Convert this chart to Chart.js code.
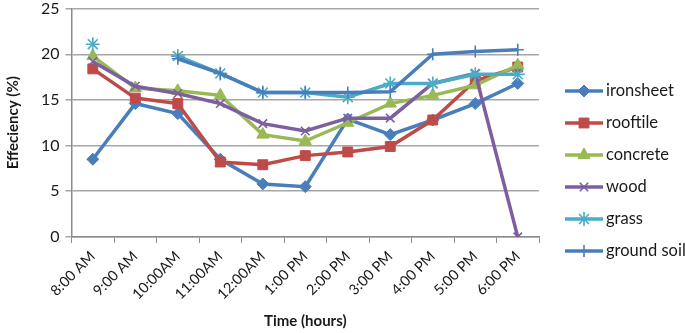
<!DOCTYPE html>
<html lang="en">
<head>
  <meta charset="UTF-8">
  <title>Efficiency over time</title>
  <script src="https://cdn.jsdelivr.net/npm/chart.js"></script>
  <style>
    html, body { margin: 0; padding: 0; background: #fff; }
    #wrap { width: 685px; height: 333px; position: relative; }
  </style>
</head>
<body>
  <div id="wrap"><canvas id="effChart"></canvas></div>

  <script>
    // data
    const hours = ['8:00 AM', '9:00 AM', '10:00AM', '11:00AM', '12:00AM', '1:00 PM',
                   '2:00 PM', '3:00 PM', '4:00 PM', '5:00 PM', '6:00 PM'];

    const ironsheet  = [8.5, 14.6, 13.5, 8.5, 5.8, 5.5, 12.9, 11.2, 12.8, 14.6, 16.8];
    const rooftile   = [18.4, 15.2, 14.6, 8.2, 7.9, 8.9, 9.3, 9.9, 12.8, 17.1, 18.6];
    const concrete   = [19.8, 16.3, 16.0, 15.5, 11.2, 10.5, 12.5, 14.6, 15.5, 16.6, 18.8];
    const wood       = [19.2, 16.5, 15.7, 14.6, 12.4, 11.6, 13.0, 13.0, 16.8, 17.9, 0];
    const grass      = [21.1, null, 19.8, 17.9, 15.8, 15.8, 15.3, 16.8, 16.8, 17.8, 17.8];
    const groundSoil = [null, null, 19.5, 17.9, 15.8, 15.8, 15.8, 15.9, 20.0, 20.3, 20.5];

    const yTicks = [0, 5, 10, 15, 20, 25];

    const font = '"Lato", "Open Sans", sans-serif';

    function series(label, data, color, style, radius, order) {
      return {
        label, data,
        borderColor: color,
        backgroundColor: color,
        borderWidth: 3.5,
        pointStyle: style,
        pointRadius: radius,
        pointHoverRadius: radius,
        pointBorderWidth: (style === 'cross' || style === 'crossRot' || style === 'star') ? 1.6 : 1,
        spanGaps: false,
        tension: 0,
        order
      };
    }

    // draws the legend on the right, line + marker like the original
    const sideLegend = {
      id: 'sideLegend',
      afterDraw(chart) {
        const ctx = chart.ctx;
        chart.data.datasets.forEach((ds, i) => {
          const y = 91 + i * 32;
          ctx.save();
          ctx.strokeStyle = ds.borderColor;
          ctx.lineWidth = 3.5;
          ctx.beginPath();
          ctx.moveTo(565, y);
          ctx.lineTo(603, y);
          ctx.stroke();
          ctx.fillStyle = ds.backgroundColor;
          ctx.lineWidth = ds.pointBorderWidth;
          Chart.helpers.drawPoint(ctx, {
            pointStyle: ds.pointStyle,
            radius: ds.pointRadius,
            rotation: 0,
            borderWidth: ds.pointBorderWidth
          }, 584, y);
          ctx.fillStyle = '#1a1a1a';
          ctx.font = '16.5px ' + font;
          ctx.textBaseline = 'middle';
          ctx.fillText(ds.label, 606, y);
          ctx.restore();
        });
      }
    };

    new Chart(document.getElementById('effChart'), {
      type: 'line',
      data: {
        labels: hours,
        datasets: [
          series('ironsheet', ironsheet, '#4a7ebb', 'rectRot', 6, 6),
          series('rooftile', rooftile, '#be4b48', 'rect', 7, 5),
          series('concrete', concrete, '#98b954', 'triangle', 7, 4),
          series('wood', wood, '#7d5fa0', 'crossRot', 6, 3),
          series('grass', grass, '#4bacc6', 'star', 7, 2),
          series('ground soil', groundSoil, '#4a7ebb', 'cross', 6, 1)
        ]
      },
      options: {
        responsive: true,
        maintainAspectRatio: false,
        animation: false,
        layout: { padding: { left: 4, right: 146, top: 2, bottom: 3 } },
        plugins: {
          legend: { display: false },
          tooltip: { enabled: false }
        },
        scales: {
          x: {
            offset: true,
            grid: {
              offset: true,
              drawOnChartArea: false,
              tickLength: 6,
              color: '#8c8c8c'
            },
            border: { color: '#8c8c8c', width: 1.5 },
            ticks: {
              minRotation: 45,
              maxRotation: 45,
              color: '#1a1a1a',
              font: { family: font, size: 14.5 },
              padding: 5
            },
            title: {
              display: true,
              text: 'Time (hours)',
              color: '#1a1a1a',
              font: { family: font, size: 15, weight: 'bold' },
              padding: { top: 4, bottom: 0 }
            }
          },
          y: {
            min: 0,
            max: 25,
            afterBuildTicks(axis) {
              axis.ticks = yTicks.map(v => ({ value: v }));
            },
            afterFit(axis) {
              // keep the top gridline close to the canvas edge
              axis.paddingTop = 0;
              axis.paddingBottom = 0;
            },
            grid: {
              color: '#a6a6a6',
              lineWidth: 1.5,
              tickLength: 6
            },
            border: { color: '#8c8c8c', width: 1.5 },
            ticks: {
              color: '#1a1a1a',
              font: { family: font, size: 16 },
              padding: 6
            },
            title: {
              display: true,
              text: 'Effeciency (%)',
              color: '#1a1a1a',
              font: { family: font, size: 15, weight: 'bold' },
              padding: { top: 0, bottom: 13 }
            }
          }
        }
      },
      plugins: [sideLegend]
    });
  </script>
</body>
</html>
